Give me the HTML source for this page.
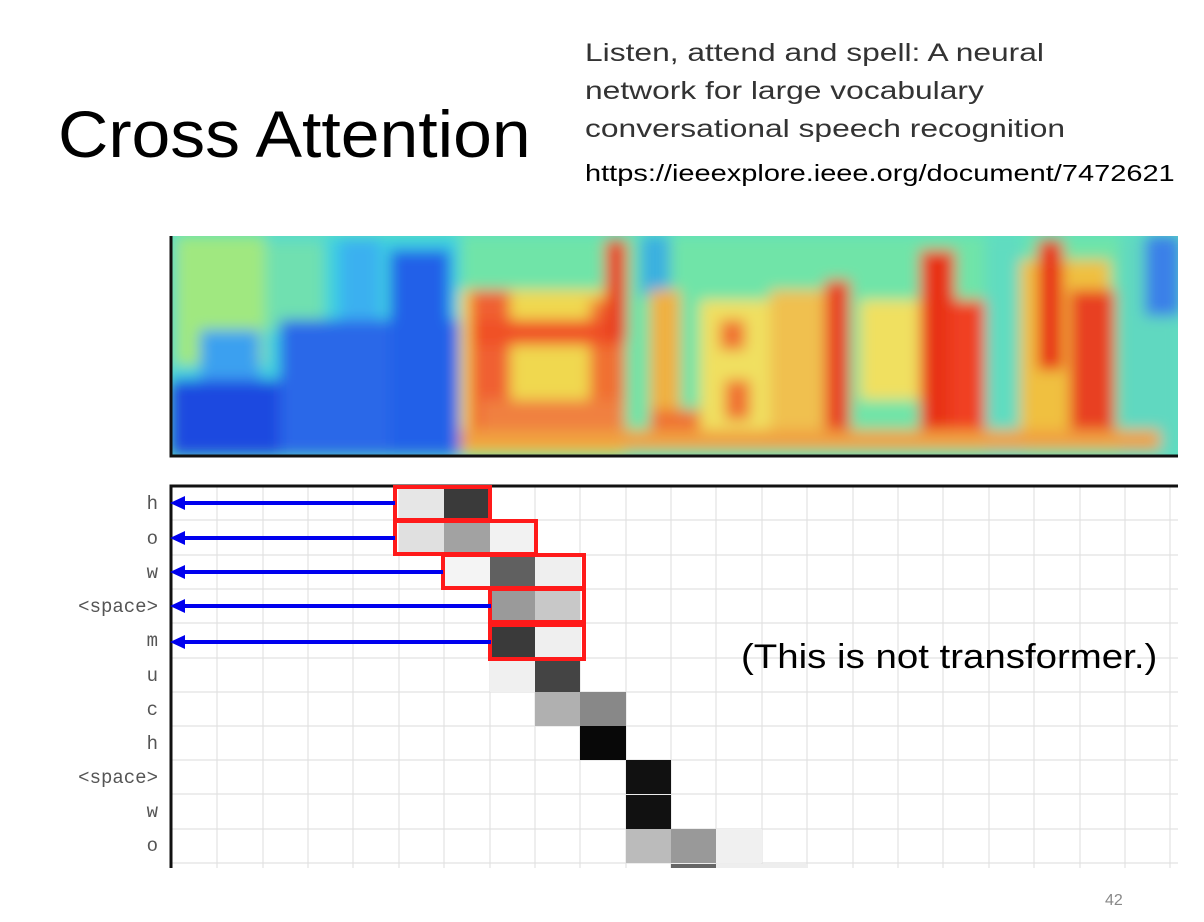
<!DOCTYPE html>
<html><head><meta charset="utf-8"><style>
body{margin:0;width:1204px;height:922px;background:#fff;position:relative;overflow:hidden;font-family:"Liberation Sans",sans-serif}
.t{position:absolute;white-space:nowrap;transform-origin:0 0}
</style></head><body>
<div class="t" style="left:58px;top:96px;font-size:66px;color:#000;transform:scaleX(1.056)">Cross Attention</div>
<div class="t" style="left:585px;top:34px;font-size:25px;line-height:38px;color:#333;transform:scaleX(1.27)">Listen, attend and spell: A neural<br>network for large vocabulary<br>conversational speech recognition</div>
<div class="t" style="left:585px;top:160px;font-size:23px;color:#000;transform:scaleX(1.26)">https://ieeexplore.ieee.org/document/7472621</div>

<svg style="position:absolute;left:0;top:0" width="1204" height="922">
<defs>
<filter id="b" filterUnits="userSpaceOnUse" x="100" y="180" width="1150" height="330"><feGaussianBlur stdDeviation="7"/></filter>
<clipPath id="c"><rect x="171" y="236" width="1007" height="219"/></clipPath>
</defs>
<g clip-path="url(#c)">
<rect x="171" y="236" width="1007" height="219" fill="#5ee0c0"/>
<g filter="url(#b)">
<rect x="171" y="236" width="290" height="219" fill="#3ed0e0"/>
<rect x="175" y="236" width="90" height="130" fill="#a0e880"/>
<rect x="265" y="240" width="60" height="90" fill="#70e0b0"/>
<rect x="171" y="380" width="285" height="75" fill="#1e48e0"/>
<rect x="280" y="320" width="180" height="135" fill="#2a68e8"/>
<rect x="200" y="330" width="60" height="50" fill="#3aa0f0"/>
<rect x="340" y="240" width="40" height="80" fill="#3ab0f0"/>
<rect x="390" y="250" width="60" height="200" fill="#2060e8"/>
<rect x="460" y="236" width="718" height="219" fill="#70e4a8"/>
<rect x="460" y="290" width="165" height="165" fill="#f0d850"/>
<rect x="470" y="290" width="40" height="150" fill="#f06030"/>
<rect x="590" y="300" width="35" height="130" fill="#f07030"/>
<rect x="470" y="320" width="155" height="25" fill="#f05028"/>
<rect x="480" y="400" width="145" height="40" fill="#f08040"/>
<rect x="605" y="240" width="22" height="100" fill="#e84020"/>
<rect x="640" y="236" width="30" height="60" fill="#3ab0e0"/>
<rect x="650" y="290" width="30" height="160" fill="#f0b040"/>
<rect x="650" y="410" width="50" height="35" fill="#f07030"/>
<rect x="700" y="300" width="70" height="140" fill="#f0e060"/>
<rect x="720" y="320" width="25" height="30" fill="#f07030"/>
<rect x="725" y="380" width="25" height="40" fill="#f07030"/>
<rect x="770" y="290" width="80" height="160" fill="#f0c050"/>
<rect x="825" y="280" width="25" height="150" fill="#e84020"/>
<rect x="860" y="300" width="60" height="100" fill="#f0e060"/>
<rect x="920" y="250" width="35" height="200" fill="#e83018"/>
<rect x="950" y="300" width="35" height="150" fill="#f04020"/>
<rect x="985" y="236" width="40" height="219" fill="#60dcc0"/>
<rect x="1020" y="260" width="90" height="190" fill="#f0c040"/>
<rect x="1038" y="240" width="25" height="130" fill="#e83018"/>
<rect x="1070" y="290" width="45" height="150" fill="#e84020"/>
<rect x="1120" y="236" width="60" height="219" fill="#60d8c0"/>
<rect x="1145" y="236" width="35" height="80" fill="#3a80e8"/>
<rect x="460" y="430" width="700" height="20" fill="#f0a040"/>
</g>
</g>
<path d="M171 236 V456 H1178" stroke="#111" stroke-width="3" fill="none"/>

<g stroke="#e2e2e2" stroke-width="1.2">
<line x1="217" y1="486" x2="217" y2="868"/><line x1="263" y1="486" x2="263" y2="868"/><line x1="308" y1="486" x2="308" y2="868"/><line x1="353" y1="486" x2="353" y2="868"/><line x1="399" y1="486" x2="399" y2="868"/><line x1="444" y1="486" x2="444" y2="868"/><line x1="490" y1="486" x2="490" y2="868"/><line x1="535" y1="486" x2="535" y2="868"/><line x1="580" y1="486" x2="580" y2="868"/><line x1="626" y1="486" x2="626" y2="868"/><line x1="671" y1="486" x2="671" y2="868"/><line x1="716" y1="486" x2="716" y2="868"/><line x1="762" y1="486" x2="762" y2="868"/><line x1="807" y1="486" x2="807" y2="868"/><line x1="853" y1="486" x2="853" y2="868"/><line x1="898" y1="486" x2="898" y2="868"/><line x1="943" y1="486" x2="943" y2="868"/><line x1="989" y1="486" x2="989" y2="868"/><line x1="1034" y1="486" x2="1034" y2="868"/><line x1="1080" y1="486" x2="1080" y2="868"/><line x1="1125" y1="486" x2="1125" y2="868"/><line x1="1170" y1="486" x2="1170" y2="868"/>
<line x1="172" y1="520" x2="1178" y2="520"/><line x1="172" y1="555" x2="1178" y2="555"/><line x1="172" y1="589" x2="1178" y2="589"/><line x1="172" y1="623" x2="1178" y2="623"/><line x1="172" y1="658" x2="1178" y2="658"/><line x1="172" y1="692" x2="1178" y2="692"/><line x1="172" y1="726" x2="1178" y2="726"/><line x1="172" y1="760" x2="1178" y2="760"/><line x1="172" y1="794" x2="1178" y2="794"/><line x1="172" y1="829" x2="1178" y2="829"/><line x1="172" y1="863" x2="1178" y2="863"/>
</g>
<g>
<rect x="399" y="487" width="45" height="33" fill="#e6e6e6"/><rect x="444" y="487" width="46" height="33" fill="#3a3a3a"/>
<rect x="399" y="521" width="45" height="34" fill="#e0e0e0"/><rect x="444" y="521" width="46" height="34" fill="#a2a2a2"/><rect x="490" y="521" width="45" height="34" fill="#f2f2f2"/>
<rect x="444" y="555" width="46" height="34" fill="#f4f4f4"/><rect x="490" y="555" width="45" height="34" fill="#606060"/><rect x="535" y="555" width="45" height="34" fill="#efefef"/>
<rect x="490" y="589" width="45" height="34" fill="#9a9a9a"/><rect x="535" y="589" width="45" height="34" fill="#c8c8c8"/>
<rect x="490" y="623" width="45" height="35" fill="#3a3a3a"/><rect x="535" y="623" width="45" height="35" fill="#efefef"/>
<rect x="490" y="658" width="45" height="34" fill="#f0f0f0"/><rect x="535" y="658" width="45" height="34" fill="#444"/>
<rect x="535" y="692" width="45" height="34" fill="#b0b0b0"/><rect x="580" y="692" width="46" height="34" fill="#888"/>
<rect x="580" y="726" width="46" height="34" fill="#080808"/>
<rect x="626" y="760" width="45" height="34" fill="#111"/>
<rect x="626" y="795" width="45" height="34" fill="#111"/>
<rect x="626" y="829" width="45" height="34" fill="#bbb"/><rect x="671" y="829" width="45" height="34" fill="#999"/><rect x="716" y="829" width="46" height="34" fill="#f0f0f0"/>
<rect x="671" y="864" width="45" height="4" fill="#666"/><rect x="716" y="864" width="92" height="4" fill="#eee"/>
</g>
<path d="M171 868 V486 H1178" stroke="#111" stroke-width="3" fill="none"/>
<g stroke="#ff1a1a" stroke-width="4" fill="none">
<rect x="395" y="487" width="95" height="33"/>
<rect x="395" y="521" width="141" height="33"/>
<rect x="443" y="555" width="141" height="33"/>
<rect x="490" y="589" width="94" height="33"/>
<rect x="490" y="625" width="94" height="34"/>
</g>
<g stroke="#0000ee" stroke-width="4">
<line x1="185" y1="503" x2="395" y2="503"/><line x1="185" y1="538" x2="395" y2="538"/><line x1="185" y1="572" x2="443" y2="572"/><line x1="185" y1="606" x2="491" y2="606"/><line x1="185" y1="642" x2="491" y2="642"/>
</g>
<g fill="#0000ee">
<path d="M170 503 l15 -7 v14z"/><path d="M170 538 l15 -7 v14z"/><path d="M170 572 l15 -7 v14z"/><path d="M170 606 l15 -7 v14z"/><path d="M170 642 l15 -7 v14z"/>
</g>
<g font-family="Liberation Mono, monospace" font-size="19" fill="#555" text-anchor="end">
<text x="158" y="509">h</text><text x="158" y="544">o</text><text x="158" y="578">w</text><text x="158" y="612">&lt;space&gt;</text><text x="158" y="646">m</text><text x="158" y="681">u</text><text x="158" y="715">c</text><text x="158" y="749">h</text><text x="158" y="783">&lt;space&gt;</text><text x="158" y="817">w</text><text x="158" y="851">o</text>
</g>
</svg>
<div class="t" style="left:741px;top:638px;font-size:34px;color:#000;transform:scaleX(1.13)">(This is not transformer.)</div>
<div class="t" style="left:1105px;top:892px;font-size:16px;color:#888">42</div>
</body></html>
